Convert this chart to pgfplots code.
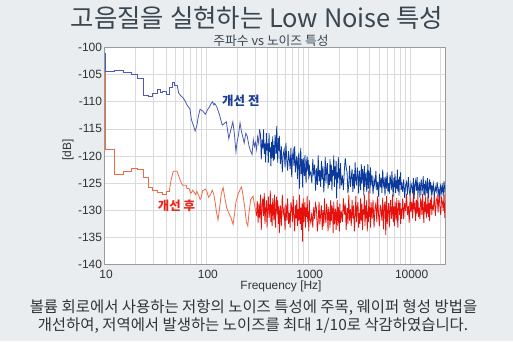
\documentclass[border=0pt]{standalone}
\usepackage{fontspec}
\setmainfont{Liberation Sans}
\newfontfamily\kr{Noto Sans CJK KR}
\usepackage{pgfplots}
\pgfplotsset{compat=1.18}
\definecolor{bg}{HTML}{E9EDF0}
\definecolor{titlec}{HTML}{3A4650}
\definecolor{txt}{HTML}{333333}
\definecolor{gridc}{HTML}{DADADA}
\definecolor{borderc}{HTML}{9A9A9A}
\definecolor{bluedark}{HTML}{0B3A9C}
\definecolor{bluelight}{HTML}{4A5AB8}
\definecolor{redbright}{HTML}{E6100C}
\definecolor{orangec}{HTML}{F26A45}
\definecolor{annblue}{HTML}{1A3E96}
\definecolor{annred}{HTML}{E8281A}
\begin{document}
\begin{tikzpicture}[x=1bp,y=1bp]
\fill[bg] (0,0) rectangle (513,341);
\useasboundingbox (0,0) rectangle (513,341);
\node[text=titlec,font=\kr\fontsize{25.5}{29}\selectfont] at (257,323.5) {고음질을 실현하는 Low Noise 특성};
\node[text=titlec,font=\kr\fontsize{12.8}{14}\selectfont] at (271,300.5) {주파수 vs 노이즈 특성};
\node[text=txt,font=\fontsize{12}{14}\selectfont,rotate=90] at (68,191) {[dB]};
\node[text=txt,font=\fontsize{12}{14}\selectfont] at (281,55) {Frequency [Hz]};
\node[text=txt,font=\kr\fontsize{15.5}{18}\selectfont] at (253.5,33.5) {볼륨 회로에서 사용하는 저항의 노이즈 특성에 주목, 웨이퍼 형성 방법을};
\node[text=txt,font=\kr\fontsize{15.5}{18}\selectfont] at (253,15.5) {개선하여, 저역에서 발생하는 노이즈를 최대 1/10로 삭감하였습니다.};
\begin{axis}[
  at={(104.5bp,76.5bp)}, anchor=south west,
  scale only axis, width=340.5bp, height=217bp,
  xmode=log, xmin=10, xmax=22000, ymin=-140, ymax=-100,
  xtick={10,100,1000,10000}, xticklabels={10,100,1000,10000},
  minor xtick={20,30,40,50,60,70,80,90,200,300,400,500,600,700,800,900,2000,3000,4000,5000,6000,7000,8000,9000,20000},
  ytick={-140,-135,-130,-125,-120,-115,-110,-105,-100},
  xmajorgrids, xminorgrids, ymajorgrids,
  grid style={draw=gridc, line width=0.6pt},
  minor grid style={draw=gridc, line width=0.6pt},
  major tick length=0pt, minor tick length=0pt,
  axis line style={draw=borderc, line width=0.8pt},
  axis background/.style={fill=white},
  tick label style={font=\fontsize{12}{14}\selectfont, text=txt},
  yticklabel style={xshift=1bp},
  xticklabel style={yshift=-2bp, xshift=1.5bp},
  /pgf/number format/assume math mode=true,
  clip=true,
]
% red: low part (stairs)
\addplot[const plot, orangec, line width=0.8pt] coordinates {
(10,-102.3) (10.2,-118.7) (12.5,-123.3) (15.4,-122.8) (18.3,-122.2) (21.2,-122.5) (24.1,-124.0) (27.0,-125.7) (29.7,-126.3) (33.3,-126.8) (37.2,-127.1) (40.3,-126.6) (43.3,-126.6)};
\addplot[orangec, line width=0.8pt] coordinates {
(43.3,-126.6) (44.5,-124.9) (46,-123.7) (47.3,-122.8) (51.5,-122.8) (53.5,-123.7) (56.5,-124.9) (58.5,-125.4) (63.4,-125.4) (64.5,-126.0) (67.5,-126.0) (70.5,-126.9) (73.5,-126.3) (78.4,-127.1) (80.5,-126.5) (85,-127.5) (86.7,-128.0) (88.5,-127.8) (92,-126.4) (97.8,-126.1) (101,-126.5) (105,-127.6) (110,-127.1) (114,-126.3) (118,-127.0) (122,-128.6) (125,-130.1) (130,-131.8) (134,-130.0) (140,-127.0) (146,-125.8) (151,-127.5) (158,-129.5) (166,-130.5) (175,-131.5) (183,-132.6) (188,-131.0) (195,-128.5) (205,-127.0) (214,-126.2) (221,-125.7) (228,-127.0) (238,-129.5) (247,-132.2) (255,-132.9) (262,-130.5) (272,-128.0) (287,-127.4) (300,-129.5) (310,-131.0)};
% red: dense part
\addplot[redbright, line width=0.8pt] coordinates {
(310,-131.0) (316,-128.3) (322,-132.3) (328,-128.8) (334,-131.5)
(340,-127.1) (346,-133.6) (352,-128.9) (358,-127.8) (364,-131.1) (370,-126.8) (376,-132.5) (382,-130.0) (388,-128.2) (394,-133.2)
(400,-129.3) (406,-127.5) (412,-131.4) (418,-130.4) (424,-126.4) (430,-132.2) (436,-128.9) (442,-132.9) (448,-127.8) (454,-129.6)
(460,-131.8) (466,-127.1) (472,-131.1) (478,-133.2) (484,-128.6) (490,-127.5) (496,-130.7) (502,-128.2) (508,-132.5) (514,-129.3) (520,-134.2)
(532,-129.1) (544,-132.9) (556,-127.1) (568,-130.8) (580,-129.8) (592,-133.6) (604,-128.8) (616,-131.9) (628,-127.8) (640,-132.5)
(652,-130.5) (664,-133.2) (676,-128.5) (688,-129.5) (700,-132.2) (712,-127.4) (724,-131.2) (736,-133.9) (748,-129.1) (760,-131.5)
(772,-128.1) (784,-132.9) (796,-129.8) (808,-131.9) (820,-127.1) (832,-132.5) (844,-129.5) (856,-133.6) (868,-128.8) (880,-135.8)
(892,-127.8) (904,-132.2) (916,-130.2) (928,-128.5) (940,-133.2) (952,-129.5) (964,-131.2) (976,-127.4) (988,-132.2) (1000,-130.2) (1012,-133.9) (1024,-128.1) (1036,-131.5)
(1060,-132.3) (1084,-130.4) (1108,-133.2) (1132,-129.4) (1156,-131.6) (1180,-128.8) (1204,-129.7) (1228,-133.9) (1252,-132.0) (1276,-128.4)
(1300,-132.6) (1324,-130.7) (1348,-129.1) (1372,-133.6) (1396,-130.0) (1420,-132.9) (1444,-127.8) (1468,-131.3) (1492,-132.3) (1516,-128.8)
(1540,-130.4) (1564,-133.9) (1588,-129.4) (1612,-131.0) (1636,-133.2) (1660,-128.1) (1684,-132.0) (1708,-129.1) (1732,-130.0) (1756,-134.2)
(1780,-128.4) (1804,-132.6) (1828,-130.7) (1852,-129.7) (1876,-133.6) (1900,-131.6) (1924,-128.1) (1948,-132.9) (1972,-129.4) (1996,-130.4)
(2020,-133.9) (2044,-128.8) (2068,-132.3)
(2116,-130.2) (2164,-132.2) (2212,-127.8) (2260,-130.8) (2308,-128.8) (2356,-133.6) (2404,-129.5) (2452,-132.5) (2500,-127.1) (2548,-131.9)
(2596,-129.8) (2644,-132.9) (2692,-128.1) (2740,-131.5) (2788,-129.1) (2836,-133.9) (2884,-131.2) (2932,-127.4) (2980,-132.2) (3028,-129.5)
(3076,-128.5) (3124,-133.2) (3172,-130.5) (3220,-132.5) (3268,-127.8) (3316,-131.9) (3364,-128.8) (3412,-133.6) (3460,-129.8) (3508,-130.8)
(3556,-127.1) (3604,-132.9) (3652,-129.1) (3700,-131.5) (3748,-128.1) (3796,-133.9) (3844,-130.2) (3892,-132.2) (3940,-126.3) (3988,-131.2)
(4036,-129.5) (4084,-133.2) (4132,-128.5)
(4228,-131.6) (4324,-128.1) (4420,-133.2) (4516,-129.7) (4612,-128.7) (4708,-132.2) (4804,-127.4) (4900,-130.9) (4996,-132.9) (5092,-129.0)
(5188,-130.0) (5284,-131.9) (5380,-127.7) (5476,-133.5) (5572,-129.3) (5668,-128.4) (5764,-134.6) (5860,-127.4) (5956,-132.5) (6052,-130.3)
(6148,-128.7) (6244,-133.2) (6340,-129.7) (6436,-128.1) (6532,-131.6) (6628,-130.6) (6724,-127.1) (6820,-132.2) (6916,-129.3) (7012,-132.9)
(7108,-128.4) (7204,-130.0) (7300,-131.9) (7396,-127.7) (7492,-131.3) (7588,-133.2) (7684,-129.0) (7780,-128.1) (7876,-130.9) (7972,-128.7)
(8068,-132.5) (8164,-129.7) (8260,-131.6)
(8452,-127.8) (8644,-131.7) (8836,-128.7) (9028,-130.1) (9220,-127.0) (9412,-130.9) (9604,-129.2) (9796,-132.3) (9988,-127.5) (10180,-130.3)
(10372,-128.4) (10564,-131.5) (10756,-126.7) (10948,-129.8) (11140,-128.9) (11332,-132.0) (11524,-128.1) (11716,-130.6) (11908,-127.3) (12100,-131.2)
(12292,-129.5) (12484,-131.7) (12676,-127.8) (12868,-128.7) (13060,-130.9) (13252,-127.0) (13444,-130.1) (13636,-132.3) (13828,-128.4) (14020,-130.3)
(14212,-127.5) (14404,-131.5) (14596,-128.9) (14788,-130.6) (14980,-126.7) (15172,-131.2) (15364,-128.7) (15556,-132.0) (15748,-128.1) (15940,-129.8)
(16132,-127.3) (16324,-130.9) (16516,-129.2)
(16900,-129.8) (17284,-127.0) (17668,-131.1) (18052,-128.3) (18436,-127.5) (18820,-130.4) (19204,-126.5) (19588,-129.3) (19972,-130.9) (20356,-127.8) (20740,-128.5) (21124,-130.1) (21508,-126.7) (21892,-131.4) (22276,-128.0)};
% blue: low part (stairs)
\addplot[const plot, bluelight, line width=0.8pt] coordinates {
(10,-101.0) (10.2,-104.4) (12.5,-104.2) (15.4,-104.5) (18.3,-105.0) (21.2,-105.7) (24.1,-108.8) (27.0,-109.1) (29.7,-108.5) (33.3,-107.7) (35.4,-108.2) (37.2,-108.0) (40.3,-108.6) (43.3,-107.4) (46.1,-106.5) (48.5,-106.9) (51.6,-106.9)};
\addplot[bluelight, line width=0.8pt] coordinates {
(51.6,-106.9) (53.5,-108.4) (56,-108.9) (59.2,-109.3) (62,-109.9) (64.1,-110.5) (67.0,-111.0) (69.1,-111.4) (71.3,-113.3) (75.0,-114.5) (77.5,-115.4) (80.4,-114.5) (83.6,-112.6) (86.7,-111.4) (92.0,-111.7) (97.8,-112.3) (103,-111.4) (107,-111.0) (110.5,-110.4) (115,-110.0) (118.5,-110.6) (121,-110.3) (127,-111.0) (134,-112.3) (143,-114.3) (150,-114.0) (157,-113.7) (166,-116.8) (172,-115.5) (182,-113.7) (188,-115.8) (195,-119.2) (200,-117.5) (207,-116.0) (214,-113.9) (221,-115.5) (228,-116.5) (235,-117.6) (244,-115.8) (252,-116.4) (261,-118.0) (270,-119.0) (281,-119.7) (289,-117.0) (296,-118.2) (303,-117.5) (311,-118.8) (318,-116.5) (326,-117.6) (333,-115.1)};
% blue: dense part
\addplot[bluedark, line width=0.8pt] coordinates {
(333,-115.1)
(340,-116.1) (346,-120.6) (352,-117.0) (358,-118.6) (364,-115.1) (370,-119.6) (376,-117.7) (382,-121.2) (388,-115.8) (394,-119.0)
(400,-117.7) (406,-121.2) (412,-115.8) (418,-119.3) (424,-118.4) (430,-121.9) (436,-117.4) (442,-120.3) (448,-116.4) (454,-120.9)
(460,-118.0) (466,-120.6) (472,-116.1) (478,-117.0) (484,-119.6) (490,-114.5) (496,-118.6) (502,-121.2) (508,-116.7) (514,-119.0) (520,-116.3)
(532,-121.5) (544,-118.2) (556,-123.0) (568,-119.7) (580,-118.8) (592,-122.1) (604,-117.6) (616,-120.9) (628,-122.7) (640,-119.1)
(652,-120.6) (664,-122.4) (676,-118.5) (688,-123.9) (700,-120.0) (712,-119.1) (724,-121.8) (736,-118.2) (748,-123.0) (760,-120.9)
(772,-120.0) (784,-124.2) (796,-120.9) (808,-119.4) (820,-126.0) (832,-121.8) (844,-118.5) (856,-123.3) (868,-120.6) (880,-125.8)
(892,-120.4) (904,-121.9) (916,-123.7) (928,-119.8) (940,-123.1) (952,-124.9) (964,-121.0) (976,-120.1) (988,-122.8) (1000,-120.7) (1012,-124.3) (1024,-121.6) (1036,-123.4)
(1060,-123.0) (1084,-125.0) (1108,-120.6) (1132,-123.6) (1156,-121.6) (1180,-126.4) (1204,-122.3) (1228,-125.3) (1252,-119.9) (1276,-124.7)
(1300,-122.6) (1324,-125.7) (1348,-120.9) (1372,-124.3) (1396,-121.9) (1420,-126.7) (1444,-124.0) (1468,-120.2) (1492,-125.0) (1516,-122.3)
(1540,-121.3) (1564,-126.0) (1588,-123.3) (1612,-125.3) (1636,-120.6) (1660,-124.7) (1684,-121.6) (1708,-126.4) (1732,-122.6) (1756,-123.6)
(1780,-119.9) (1804,-125.7) (1828,-121.9) (1852,-124.3) (1876,-120.9) (1900,-127.8) (1924,-123.0) (1948,-125.0) (1972,-120.2) (1996,-124.0)
(2020,-122.3) (2044,-126.0) (2068,-121.3)
(2116,-125.4) (2164,-123.6) (2212,-126.3) (2260,-122.7) (2308,-120.4) (2356,-122.1) (2404,-123.0) (2452,-126.9) (2500,-125.1) (2548,-121.8)
(2596,-125.7) (2644,-123.9) (2692,-122.4) (2740,-126.6) (2788,-123.3) (2836,-126.0) (2884,-121.2) (2932,-124.5) (2980,-125.4) (3028,-122.1)
(3076,-123.6) (3124,-126.9) (3172,-122.7) (3220,-124.2) (3268,-126.3) (3316,-121.5) (3364,-125.1) (3412,-122.4) (3460,-123.3) (3508,-127.2)
(3556,-121.8) (3604,-125.7) (3652,-123.9) (3700,-123.0) (3748,-126.6) (3796,-124.8) (3844,-121.5) (3892,-126.0) (3940,-122.7) (3988,-123.6)
(4036,-126.9) (4084,-122.1) (4132,-125.4)
(4228,-123.5) (4324,-127.0) (4420,-124.3) (4516,-125.5) (4612,-122.8) (4708,-126.3) (4804,-124.8) (4900,-127.5) (4996,-123.3) (5092,-125.8)
(5188,-124.0) (5284,-126.8) (5380,-122.5) (5476,-125.3) (5572,-124.5) (5668,-127.3) (5764,-123.8) (5860,-126.0) (5956,-123.0) (6052,-126.5)
(6148,-125.0) (6244,-127.0) (6340,-123.5) (6436,-124.3) (6532,-126.3) (6628,-122.8) (6724,-125.5) (6820,-127.5) (6916,-124.0) (7012,-125.8)
(7108,-123.3) (7204,-126.8) (7300,-124.5) (7396,-126.0) (7492,-122.5) (7588,-126.5) (7684,-124.3) (7780,-127.3) (7876,-123.8) (7972,-125.3)
(8068,-123.0) (8164,-126.3) (8260,-124.8)
(8452,-126.6) (8644,-124.3) (8836,-127.7) (9028,-125.4) (9220,-124.8) (9412,-127.1) (9604,-123.9) (9796,-126.2) (9988,-127.5) (10180,-125.0)
(10372,-125.6) (10564,-126.9) (10756,-124.1) (10948,-127.9) (11140,-125.2) (11332,-124.5) (11524,-126.4) (11716,-123.9) (11908,-127.3) (12100,-125.8)
(12292,-124.8) (12484,-127.7) (12676,-125.4) (12868,-124.3) (13060,-126.6) (13252,-126.0) (13444,-123.7) (13636,-127.1) (13828,-125.2) (14020,-127.5)
(14212,-124.5) (14404,-125.6) (14596,-126.9) (14788,-124.1) (14980,-126.4) (15172,-127.7) (15364,-125.0) (15556,-124.3) (15748,-126.2) (15940,-124.8)
(16132,-127.3) (16324,-125.4) (16516,-126.6)
(16900,-125.2) (17284,-127.5) (17668,-125.7) (18052,-126.5) (18436,-124.8) (18820,-127.0) (19204,-126.0) (19588,-127.8) (19972,-125.1) (20356,-126.7) (20740,-125.6) (21124,-127.3) (21508,-124.6) (21892,-126.4) (22276,-125.9)};
\node[text=annblue,font=\kr\bfseries\fontsize{12.5}{14}\selectfont] at (axis cs:218,-109.9) {개선 전};
\node[text=annred,font=\kr\bfseries\fontsize{12.5}{14}\selectfont] at (axis cs:51,-129.2) {개선 후};
\end{axis}
\end{tikzpicture}
\end{document}
